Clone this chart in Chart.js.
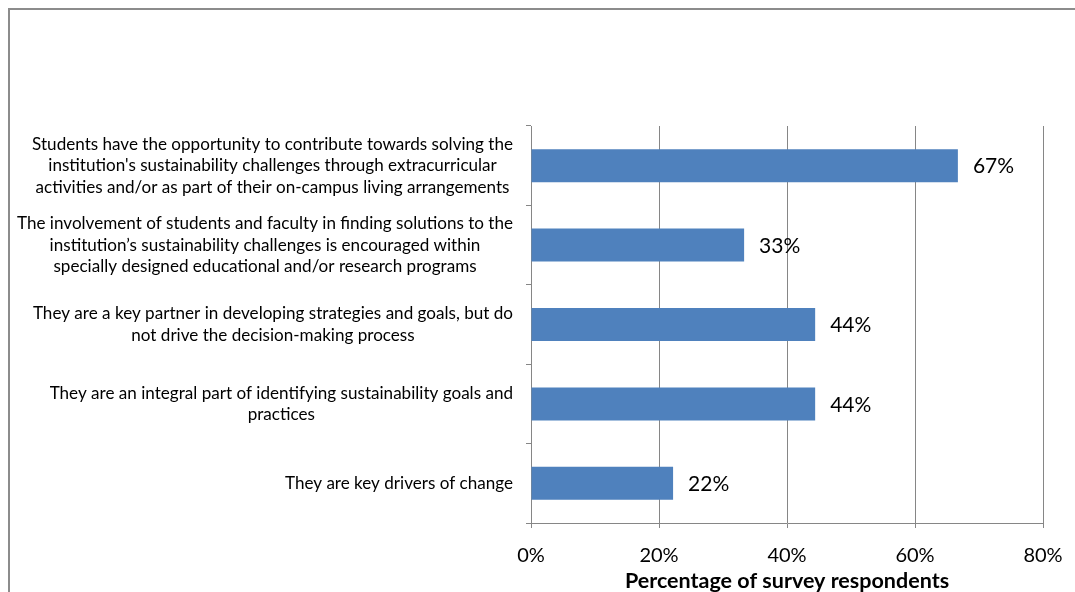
<!DOCTYPE html>
<html>
<head>
<meta charset="utf-8">
<script src="https://cdn.jsdelivr.net/npm/chart.js@4"></script>
<style>
    html, body { margin: 0; padding: 0; background: #fff; }
    #wrap { width: 1075px; height: 592px; position: relative; }
</style>
</head>
<body>
<div id="wrap"><canvas id="surveyChart"></canvas></div>
<script>
// Data
const categories = [
    ['Students have the opportunity to contribute towards solving the',
        'institution\'s sustainability challenges through extracurricular',
        'activities and/or as part of their on-campus living arrangements'],
    ['The involvement of students and faculty in finding solutions to the',
        'institution’s sustainability challenges is encouraged within',
        'specially designed educational and/or research programs'],
    ['They are a key partner in developing strategies and goals, but do',
        'not drive the decision-making process'],
    ['They are an integral part of identifying sustainability goals and',
        'practices'],
    ['They are key drivers of change'],
];
const respondents = [66.7, 33.3, 44.4, 44.4, 22.2];
const xTicks = [0, 20, 40, 60, 80];
const xTitle = 'Percentage of survey respondents';

const GRID = '#868686';
const FONT = 'Lato, "Open Sans", sans-serif';

// Frame round the whole chart
const framePlugin = {
    id: 'frame',
    beforeDraw(chart) {
        const { ctx } = chart;
        ctx.save();
        ctx.strokeStyle = '#8c8c8c';
        ctx.lineWidth = 2;
        ctx.strokeRect(9, 9, 1200, 800);
        ctx.restore();
    },
};

// Category labels: block right-aligned to the axis, lines centred inside the block
const categoryLabelPlugin = {
    id: 'categoryLabels',
    afterDraw(chart) {
        const { ctx } = chart;
        const yScale = chart.scales.y;
        const rightEdge = yScale.right - 18;
        ctx.save();
        ctx.fillStyle = '#000';
        ctx.textBaseline = 'middle';
        ctx.textAlign = 'center';

        // size the font so the longest line spans the same width as the original
        ctx.font = `20px ${FONT}`;
        const widest = Math.max(...categories.flat().map((l) => ctx.measureText(l).width));
        const size = 20 * 496 / widest;
        ctx.font = `${size.toFixed(2)}px ${FONT}`;

        const lineHeight = 21.5;
        categories.forEach((lines, i) => {
            const yc = yScale.getPixelForValue(i);
            const blockW = Math.max(...lines.map((l) => ctx.measureText(l).width));
            const xc = rightEdge - blockW / 2;
            lines.forEach((line, j) => {
                const y = yc + (j - (lines.length - 1) / 2) * lineHeight;
                ctx.fillText(line, xc, y);
            });
        });
        ctx.restore();
    },
};

// Value labels to the right of each bar
const valueLabelPlugin = {
    id: 'valueLabels',
    afterDatasetsDraw(chart) {
        const { ctx } = chart;
        const meta = chart.getDatasetMeta(0);
        ctx.save();
        ctx.fillStyle = '#000';
        ctx.font = `21px ${FONT}`;
        ctx.textAlign = 'left';
        ctx.textBaseline = 'middle';
        meta.data.forEach((bar, i) => {
            ctx.fillText(`${Math.round(respondents[i])}%`, bar.x + 15, bar.y + 1);
        });
        ctx.restore();
    },
};

const ctx = document.getElementById('surveyChart').getContext('2d');

// eslint-disable-next-line no-new
new Chart(ctx, {
    type: 'bar',
    data: {
        labels: categories.map((c) => c.join(' ')),
        datasets: [{
            data: respondents,
            backgroundColor: '#4F81BD',
            borderWidth: 0,
            categoryPercentage: 1,
            barPercentage: 0.415,
        }],
    },
    options: {
        indexAxis: 'y',
        responsive: true,
        maintainAspectRatio: false,
        animation: false,
        layout: {
            padding: { top: 126, right: 32, bottom: 0, left: 0 },
        },
        plugins: {
            legend: { display: false },
            tooltip: { enabled: false },
        },
        scales: {
            x: {
                min: xTicks[0],
                max: xTicks[xTicks.length - 1],
                afterBuildTicks: (scale) => {
                    scale.ticks = xTicks.map((v) => ({ value: v }));
                },
                afterFit: (scale) => {
                    scale.height = 69;
                    scale.paddingLeft = 0;
                    scale.paddingRight = 0;
                },
                grid: {
                    color: GRID,
                    lineWidth: 1,
                    tickLength: 5,
                },
                border: { color: GRID, width: 1 },
                ticks: {
                    color: '#000',
                    padding: 16,
                    maxRotation: 0,
                    font: { family: FONT, size: 20 },
                    callback: (v) => `${v}%`,
                },
                title: {
                    display: true,
                    text: xTitle,
                    color: '#000',
                    padding: { top: 0, bottom: -2 },
                    font: { family: FONT, size: 21.5, weight: 'bold' },
                },
            },
            y: {
                afterFit: (scale) => {
                    scale.width = 531;
                },
                grid: {
                    drawOnChartArea: false,
                    color: GRID,
                    tickLength: 5,
                    offset: true,
                },
                border: { color: GRID, width: 1 },
                ticks: { display: false },
            },
        },
    },
    plugins: [framePlugin, categoryLabelPlugin, valueLabelPlugin],
});
</script>
</body>
</html>
